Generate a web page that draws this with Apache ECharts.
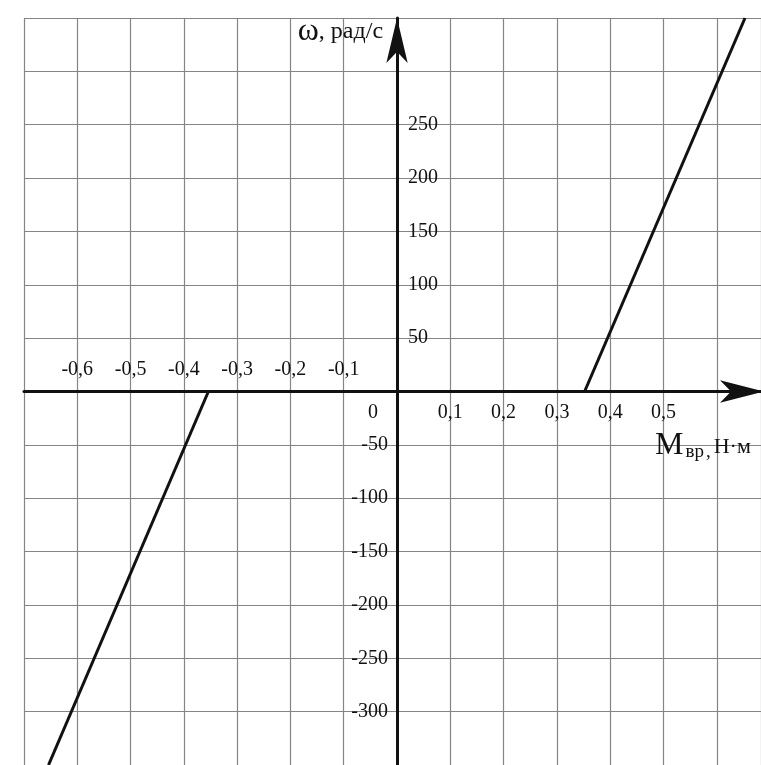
<!DOCTYPE html>
<html>
<head>
<meta charset="utf-8">
<script src="https://cdn.jsdelivr.net/npm/echarts@6/dist/echarts.min.js"></script>
<style>
  html, body { margin: 0; padding: 0; background: #fff; }
  #chart { width: 761px; height: 765px; }
</style>
</head>
<body>
<div id="chart"></div>
<script>
// Axis ranges and tick steps (torque M, N·m on x; angular speed ω, rad/s on y)
const xRange = [-0.7, 0.683];
const xStep = 0.1;
const yRange = [-350, 350];
const yStep = 50;

// Which tick values get a printed label
const xLabelsAbove = [-0.6, -0.5, -0.4, -0.3, -0.2, -0.1];
const xLabelsBelow = [0, 0.1, 0.2, 0.3, 0.4, 0.5];
const yLabelsRight = [50, 100, 150, 200, 250];
const yLabelsLeft = [-50, -100, -150, -200, -250, -300];

// Characteristic branches: [M, ω]
const branchNegative = [[-0.654, -350], [-0.354, 0]];
const branchPositive = [[0.352, 0], [0.653, 350]];

const FONT = '"Liberation Serif", "DejaVu Serif", serif';
const TICK_SIZE = 20;
const INK = '#111';

// Plot area inside the 761×765 canvas
const W = 761, H = 765;
const GRID = { left: 24, top: 18, right: 0, bottom: 0 };
const gridW = W - GRID.left - GRID.right;
const gridH = H - GRID.top - GRID.bottom;
// Distances from the grid's left / bottom edge to the zero lines, so both
// axes can be shifted onto the origin (cross-shaped axes).
const xZeroFromLeft = gridW * (0 - xRange[0]) / (xRange[1] - xRange[0]);
const yZeroFromBottom = gridH * (0 - yRange[0]) / (yRange[1] - yRange[0]);

function inList(list, v) {
  return list.some(a => Math.abs(a - v) < 1e-6);
}
function fmtComma(v) {
  if (Math.abs(v) < 1e-9) return '0';
  return (Math.round(v * 10) / 10).toFixed(1).replace('.', ',');
}

// Text width helper, used to push the ω tick labels to either side of the
// vertical axis (labels are centred on the axis and shifted with padding).
const measureCtx = document.createElement('canvas').getContext('2d');
measureCtx.font = TICK_SIZE + 'px ' + FONT;
function textWidth(s) { return measureCtx.measureText(s).width; }

const GAP_LEFT = 9;   // gap between negative ω labels and the axis
const GAP_RIGHT = 11; // gap between positive ω labels and the axis

const yRich = {};
yLabelsLeft.forEach((v, i) => {
  const w = textWidth(String(v));
  yRich['n' + i] = { fontFamily: FONT, fontSize: TICK_SIZE, color: INK, padding: [0, w + 2 * GAP_LEFT, 0, 0] };
});
yLabelsRight.forEach((v, i) => {
  const w = textWidth(String(v));
  yRich['p' + i] = { fontFamily: FONT, fontSize: TICK_SIZE, color: INK, padding: [0, 0, 0, w + 2 * GAP_RIGHT] };
});

function yLabel(v) {
  let i = yLabelsLeft.findIndex(a => Math.abs(a - v) < 1e-6);
  if (i >= 0) return '{n' + i + '|' + v + '}';
  i = yLabelsRight.findIndex(a => Math.abs(a - v) < 1e-6);
  if (i >= 0) return '{p' + i + '|' + v + '}';
  return '';
}

function xLabel(v) {
  if (inList(xLabelsAbove, v)) return '{up|' + fmtComma(v) + '}';
  if (inList(xLabelsBelow, v)) {
    if (Math.abs(v) < 1e-9) return '{zero|0}';
    return '{down|' + fmtComma(v) + '}';
  }
  return '';
}

const chart = echarts.init(document.getElementById('chart'), null, { renderer: 'canvas' });

const gridLine = { show: true, lineStyle: { color: '#858585', width: 1.2 } };
const axisBlack = { color: INK, width: 3 };

const option = {
  backgroundColor: '#fff',
  animation: false,
  grid: {
    left: GRID.left, top: GRID.top, right: GRID.right, bottom: GRID.bottom,
    containLabel: false,
    outerBoundsMode: 'none'
  },
  xAxis: {
    type: 'value',
    min: xRange[0], max: xRange[1], interval: xStep,
    position: 'bottom',
    offset: -yZeroFromBottom,
    axisLine: {
      show: true, onZero: false,
      lineStyle: axisBlack,
      symbol: ['none', 'arrow'],
      symbolSize: [17, 44],
      symbolOffset: [0, 3]
    },
    axisTick: { show: false },
    splitLine: gridLine,
    axisLabel: {
      show: true, margin: 0,
      verticalAlign: 'middle', align: 'center',
      fontFamily: FONT, fontSize: TICK_SIZE, color: INK,
      showMinLabel: true, showMaxLabel: false,
      formatter: xLabel,
      rich: {
        up: { fontFamily: FONT, fontSize: TICK_SIZE, color: INK, padding: [0, 0, 44, 0] },
        down: { fontFamily: FONT, fontSize: TICK_SIZE, color: INK, padding: [42, 0, 0, 0] },
        zero: { fontFamily: FONT, fontSize: TICK_SIZE, color: INK, padding: [42, 48, 0, 0] }
      }
    },
    name: '{m|M}{s|вр}{c|,}{n|Н·м}',
    nameLocation: 'end',
    nameGap: -106,
    nameMoveOverlap: false,
    nameTextStyle: {
      align: 'left', verticalAlign: 'top',
      padding: [36, 0, 0, 0],
      fontFamily: FONT, color: INK,
      rich: {
        m: { fontFamily: FONT, fontSize: 32, lineHeight: 34, color: INK, verticalAlign: 'bottom' },
        s: { fontFamily: FONT, fontSize: 19, lineHeight: 19, color: INK, verticalAlign: 'bottom', padding: [0, 0, 0, 2] },
        c: { fontFamily: FONT, fontSize: 19, lineHeight: 19, color: INK, verticalAlign: 'bottom', padding: [0, 0, 0, 2] },
        n: { fontFamily: FONT, fontSize: 22, lineHeight: 22, color: INK, verticalAlign: 'bottom', padding: [0, 0, 3, 3] }
      }
    }
  },
  yAxis: {
    type: 'value',
    min: yRange[0], max: yRange[1], interval: yStep,
    position: 'left',
    offset: -xZeroFromLeft,
    axisLine: {
      show: true, onZero: false,
      lineStyle: axisBlack,
      symbol: ['none', 'arrow'],
      symbolSize: [16, 45],
      symbolOffset: [0, 0]
    },
    axisTick: { show: false },
    splitLine: gridLine,
    axisLabel: {
      show: true, margin: 0,
      align: 'center', verticalAlign: 'middle',
      fontFamily: FONT, fontSize: TICK_SIZE, color: INK,
      showMinLabel: true, showMaxLabel: true,
      formatter: yLabel,
      rich: yRich
    },
    name: '{w|ω}{t|, рад/с}',
    nameLocation: 'end',
    nameGap: -14,
    nameMoveOverlap: false,
    nameTextStyle: {
      align: 'right', verticalAlign: 'middle',
      padding: [0, 14, 0, 0],
      fontFamily: FONT, color: INK,
      rich: {
        w: { fontFamily: FONT, fontSize: 32, color: INK },
        t: { fontFamily: FONT, fontSize: 24, color: INK }
      }
    }
  },
  series: [
    {
      type: 'line',
      name: 'M < 0',
      data: branchNegative,
      showSymbol: false,
      lineStyle: { color: INK, width: 3 },
      clip: true
    },
    {
      type: 'line',
      name: 'M > 0',
      data: branchPositive,
      showSymbol: false,
      lineStyle: { color: INK, width: 3 },
      clip: true
    }
  ]
};

chart.setOption(option);
</script>
</body>
</html>
